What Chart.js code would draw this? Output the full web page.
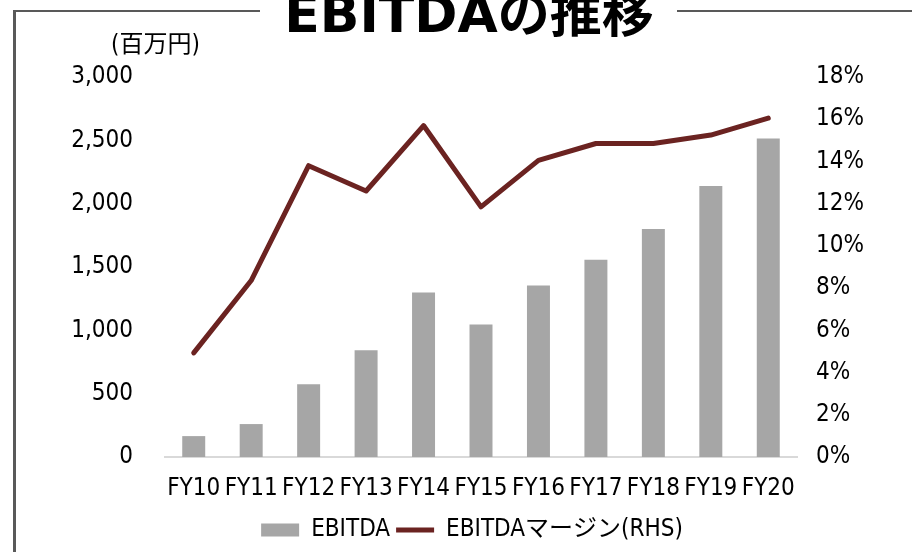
<!DOCTYPE html>
<html>
<head>
<meta charset="utf-8">
<script src="https://cdn.jsdelivr.net/npm/chart.js@4.4.0/dist/chart.umd.min.js"></script>
<style>
html,body{margin:0;padding:0;background:#fff;overflow:hidden}
#wrap{position:relative;width:912px;height:552px}
#wrap canvas{position:absolute;left:0;top:0}
.fl{position:absolute;background:#595959}
#title{position:absolute;left:269px;width:400px;top:-12px;height:52px;line-height:52px;text-align:center;font-weight:bold;font-size:52px;font-family:"DejaVu Sans","Noto Sans CJK JP",sans-serif;white-space:nowrap;color:#000}
#unit{position:absolute;left:111px;top:32px;height:24px;line-height:24px;font-size:24px;font-family:"DejaVu Sans Condensed","DejaVu Sans","Noto Sans CJK JP",sans-serif;white-space:nowrap;color:#000}
</style>
</head>
<body>
<div id="wrap">
  <canvas id="c" width="912" height="552"></canvas>
  <div class="fl" style="left:13px;top:10px;width:3px;height:542px"></div>
  <div class="fl" style="left:13px;top:10px;width:247px;height:2px"></div>
  <div class="fl" style="left:677px;top:10px;width:235px;height:2px"></div>
  <div id="title">EBITDAの推移</div>
  <div id="unit">(百万円)</div>
</div>
<script>
const categories = ['FY10','FY11','FY12','FY13','FY14','FY15','FY16','FY17','FY18','FY19','FY20'];
const ebitdaValues = [165, 260, 575, 843, 1299, 1047, 1354, 1558, 1800, 2140, 2515];
const marginValues = [4.93, 8.36, 13.8, 12.6, 15.7, 11.85, 14.05, 14.85, 14.85, 15.25, 16.05];
const seriesNames = ['EBITDA', 'EBITDAマージン(RHS)'];
const leftTicks = [0, 500, 1000, 1500, 2000, 2500, 3000];
const rightTicks = [0, 2, 4, 6, 8, 10, 12, 14, 16, 18];

const FONT = '"DejaVu Sans Condensed","DejaVu Sans","Noto Sans CJK JP",sans-serif';

new Chart(document.getElementById('c'), {
  data: {
    labels: categories,
    datasets: [
      {
        type: 'bar',
        label: seriesNames[0],
        data: ebitdaValues,
        backgroundColor: '#A6A6A6',
        borderWidth: 0,
        barPercentage: 0.4,
        categoryPercentage: 1.0,
        pointStyle: 'rect',
        yAxisID: 'y'
      },
      {
        type: 'line',
        label: seriesNames[1],
        data: marginValues,
        borderColor: '#6B2321',
        backgroundColor: '#6B2321',
        borderWidth: 5,
        borderCapStyle: 'round',
        borderJoinStyle: 'round',
        pointRadius: 0,
        pointHoverRadius: 0,
        pointStyle: 'line',
        tension: 0,
        yAxisID: 'y1'
      }
    ]
  },
  options: {
    responsive: false,
    animation: false,
    devicePixelRatio: 1,
    layout: { padding: { top: 77, left: 32, right: 0, bottom: 0 } },
    plugins: {
      tooltip: { enabled: false },
      title: { display: false },
      legend: {
        position: 'bottom',
        labels: {
          usePointStyle: true,
          pointStyleWidth: 38,
          boxHeight: 13,
          padding: 6,
          color: '#000',
          font: { family: FONT, size: 24 }
        }
      }
    },
    scales: {
      x: {
        grid: { display: false, drawTicks: false },
        border: { display: true, color: '#D9D9D9', width: 2 },
        ticks: { color: '#000', padding: 17, maxRotation: 0, autoSkip: false, font: { family: FONT, size: 24 } },
        afterFit: (s) => { s.height = 55; }
      },
      y: {
        position: 'left',
        min: 0,
        max: 3000,
        afterBuildTicks: (s) => { s.ticks = leftTicks.map(v => ({ value: v })); },
        grid: { display: false, drawTicks: false },
        border: { display: false },
        ticks: {
          color: '#000',
          padding: 32,
          font: { family: FONT, size: 24 },
          callback: (v) => v.toLocaleString('en-US')
        },
        afterFit: (s) => { s.width = 133; }
      },
      y1: {
        position: 'right',
        min: 0,
        max: 18,
        afterBuildTicks: (s) => { s.ticks = rightTicks.map(v => ({ value: v })); },
        grid: { display: false, drawTicks: false },
        border: { display: false },
        ticks: {
          color: '#000',
          padding: 19,
          font: { family: FONT, size: 24 },
          callback: (v) => v + '%'
        },
        afterFit: (s) => { s.width = 115; }
      }
    }
  }
});
</script>
</body>
</html>
